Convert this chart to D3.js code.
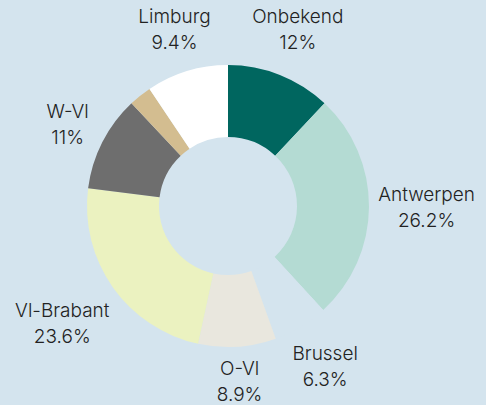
<!DOCTYPE html>
<html>
<head>
    <script src="https://cdnjs.cloudflare.com/ajax/libs/d3/7.8.5/d3.min.js"></script>
    <style>
        body { margin: 0; background: #d4e4ee; }
        .lbl { font-family: 'Inter', 'Noto Sans', sans-serif; font-weight: 300; font-size: 19px; fill: #222; }
    </style>
</head>
<body>
    <div id="root"></div>
    <script>
        // slices, clockwise from 12 o'clock
        const regions = ['Onbekend', 'Antwerpen', 'Brussel', 'O-Vl', 'Vl-Brabant', 'W-Vl', 'Overig', 'Limburg']
        const shares = [12, 26.2, 6.3, 8.9, 23.6, 11, 2.6, 9.4]
        const showLabel = [true, true, true, true, true, true, false, true]
        const colors = ['#00665f', '#b4dbd3', '#d4e4ee', '#e9e7de', '#ebf2c0', '#6e6e6e', '#d3bd90', '#ffffff']

        const w = 486, h = 405
        const cx = 228, cy = 206
        const outerR = 141, innerR = 69

        const svg = d3.select('#root').append('svg')
            .attr('width', w).attr('height', h)
            .style('background', '#d4e4ee')

        const data = regions.map((r, i) => ({ name: r, value: shares[i], color: colors[i], show: showLabel[i] }))

        const pie = d3.pie().value(d => d.value).sort(null)
        const arc = d3.arc().innerRadius(innerR).outerRadius(outerR)
        const arcs = pie(data)

        const g = svg.append('g').attr('transform', `translate(${cx},${cy})`)

        g.selectAll('path')
            .data(arcs)
            .enter()
            .append('path')
            .attr('d', arc)
            .attr('fill', d => d.data.color)

        const labels = g.selectAll('g.lab')
            .data(arcs.filter(d => d.data.show))
            .enter()
            .append('g')
            .attr('class', 'lab')

        labels.append('text')
            .attr('class', 'lbl')
            .attr('text-anchor', 'middle')
            .attr('y', -4)
            .text(d => d.data.name)
        labels.append('text')
            .attr('class', 'lbl')
            .attr('text-anchor', 'middle')
            .attr('y', 22)
            .text(d => d.data.value + '%')

        // push each label block out until its box clears the ring
        labels.each(function (d) {
            const bb = this.getBBox()
            const a = (d.startAngle + d.endAngle) / 2
            const s = Math.sin(a), c = -Math.cos(a)
            const r = 150 + Math.abs(s) * bb.width / 2 + Math.abs(c) * bb.height / 2
            const ox = bb.x + bb.width / 2, oy = bb.y + bb.height / 2
            d3.select(this).attr('transform', `translate(${r * s - ox},${r * c - oy})`)
        })
    </script>
</body>
</html>
